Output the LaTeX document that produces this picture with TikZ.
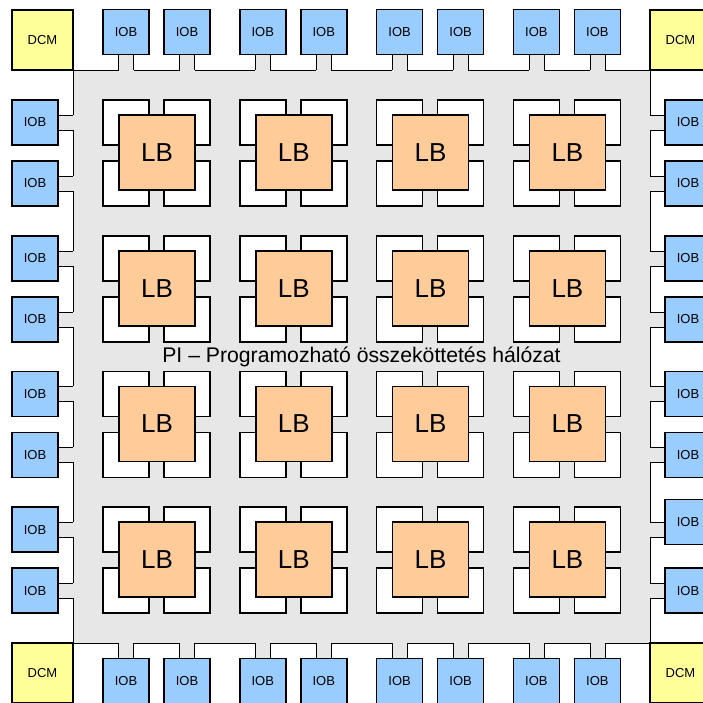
\documentclass[tikz,border=0pt]{standalone}
\usepackage{fontspec}
\setmainfont{Liberation Sans}
\usetikzlibrary{calc}
\pgfdeclarelayer{back}
\pgfsetlayers{back,main}

\definecolor{iobblue}{RGB}{153,204,255}
\definecolor{dcmyellow}{RGB}{255,255,153}
\definecolor{lborange}{RGB}{255,204,153}
\definecolor{pigray}{RGB}{231,231,231}

\tikzset{
	iob/.style={draw, fill=iobblue, minimum width=46pt, minimum height=45pt, inner sep=0pt, font=\fontsize{13}{15}\selectfont},
	dcm/.style={draw, fill=dcmyellow, minimum width=61pt, minimum height=60pt, inner sep=0pt, font=\fontsize{13}{15}\selectfont},
	wire/.style={draw, fill=white, minimum width=46pt, minimum height=45pt, inner sep=0pt},
	lb/.style={draw, fill=lborange, minimum width=76pt, minimum height=75pt, inner sep=0pt, font=\fontsize{26}{30}\selectfont},
	pin/.style={line cap=rect}
}

\begin{document}
\begin{tikzpicture}[x=1pt, y=-1pt, line width=1.7pt]
			\useasboundingbox (0,0) rectangle (703,702);
			\clip (0,0) rectangle (703,702);

			\node[dcm] (dcm1) at (42.5,40) {DCM};
			\node[dcm] (dcm2) at (680.5,40) {DCM};
			\node[dcm] (dcm3) at (42.5,673) {DCM};
			\node[dcm] (dcm4) at (680.5,673) {DCM};

			\foreach \n/\x in {1/126,2/187,3/262.8,4/323.8,5/399.6,6/460.6,7/536.4,8/597.4} {
				\node[iob] (iobt\n) at (\x,32) {IOB};
				\node[iob] (iobb\n) at (\x,681) {IOB};
			}
			\foreach \n/\y in {1/122.5,2/183.5,3/258.2,4/319.2,5/393.9,6/454.9,7/529.6,8/590.6}
				\node[iob] (iobl\n) at (35,\y) {IOB};
			\foreach \n/\y in {1/122.5,2/183.5,3/258.2,4/319.2,5/393.9,6/454.9,7/522,8/590.6}
				\node[iob] (iobr\n) at (688,\y) {IOB};

			\foreach \i in {0,...,3} \foreach \j in {0,...,3} {
				\coordinate (t\i\j) at ({103+136.8*\i},{100+135.7*\j});
				\node[wire] (wa\i\j) at ($(t\i\j)+(23,22.5)$) {};
				\node[wire] (wb\i\j) at ($(t\i\j)+(84,22.5)$) {};
				\node[wire] (wc\i\j) at ($(t\i\j)+(23,83.5)$) {};
				\node[wire] (wd\i\j) at ($(t\i\j)+(84,83.5)$) {};
				\node[lb] (lb\i\j) at ($(t\i\j)+(54,52.5)$) {LB};
			}

			\begin{pgfonlayer}{back}
			\node[draw, fill=pigray, minimum width=577pt, minimum height=573pt, inner sep=0pt, font=\fontsize{21.2}{25}\selectfont] (pi) at (361.5,356.5) {PI -- Programozható összeköttetés hálózat};

			% pins top and bottom
			\foreach \n in {1,...,8} {
				\fill[pigray] ($(iobt\n.south)+(-7.5,0)$) rectangle ($(iobt\n.south |- pi.north)+(7.5,1.5)$);
				\draw[pin] ($(iobt\n.south)+(-7.5,0)$) -- ($(iobt\n.south |- pi.north)+(-7.5,0)$);
				\draw[pin] ($(iobt\n.south)+(7.5,0)$) -- ($(iobt\n.south |- pi.north)+(7.5,0)$);
				\fill[pigray] ($(iobb\n.north)+(-7.5,0)$) rectangle ($(iobb\n.north |- pi.south)+(7.5,-1.5)$);
				\draw[pin] ($(iobb\n.north)+(-7.5,0)$) -- ($(iobb\n.north |- pi.south)+(-7.5,0)$);
				\draw[pin] ($(iobb\n.north)+(7.5,0)$) -- ($(iobb\n.north |- pi.south)+(7.5,0)$);
			}
			% pins left and right
			\foreach \n in {1,...,8} {
				\fill[pigray] ($(iobl\n.east)+(0,-7.5)$) rectangle ($(iobl\n.east -| pi.west)+(1.5,7.5)$);
				\draw[pin] ($(iobl\n.east)+(0,-7.5)$) -- ($(iobl\n.east -| pi.west)+(0,-7.5)$);
				\draw[pin] ($(iobl\n.east)+(0,7.5)$) -- ($(iobl\n.east -| pi.west)+(0,7.5)$);
			}
			\foreach \n/\d in {1/0,2/0,3/0,4/0,5/0,6/0,7/7.6,8/0} {
				\fill[pigray] ($(iobr\n.west)+(0,\d-7.5)$) rectangle ($(iobr\n.west -| pi.east)+(-1.5,\d+7.5)$);
				\draw[pin] ($(iobr\n.west)+(0,\d-7.5)$) -- ($(iobr\n.west -| pi.east)+(0,\d-7.5)$);
				\draw[pin] ($(iobr\n.west)+(0,\d+7.5)$) -- ($(iobr\n.west -| pi.east)+(0,\d+7.5)$);
			}
			\end{pgfonlayer}

		\end{tikzpicture}
\end{document}
